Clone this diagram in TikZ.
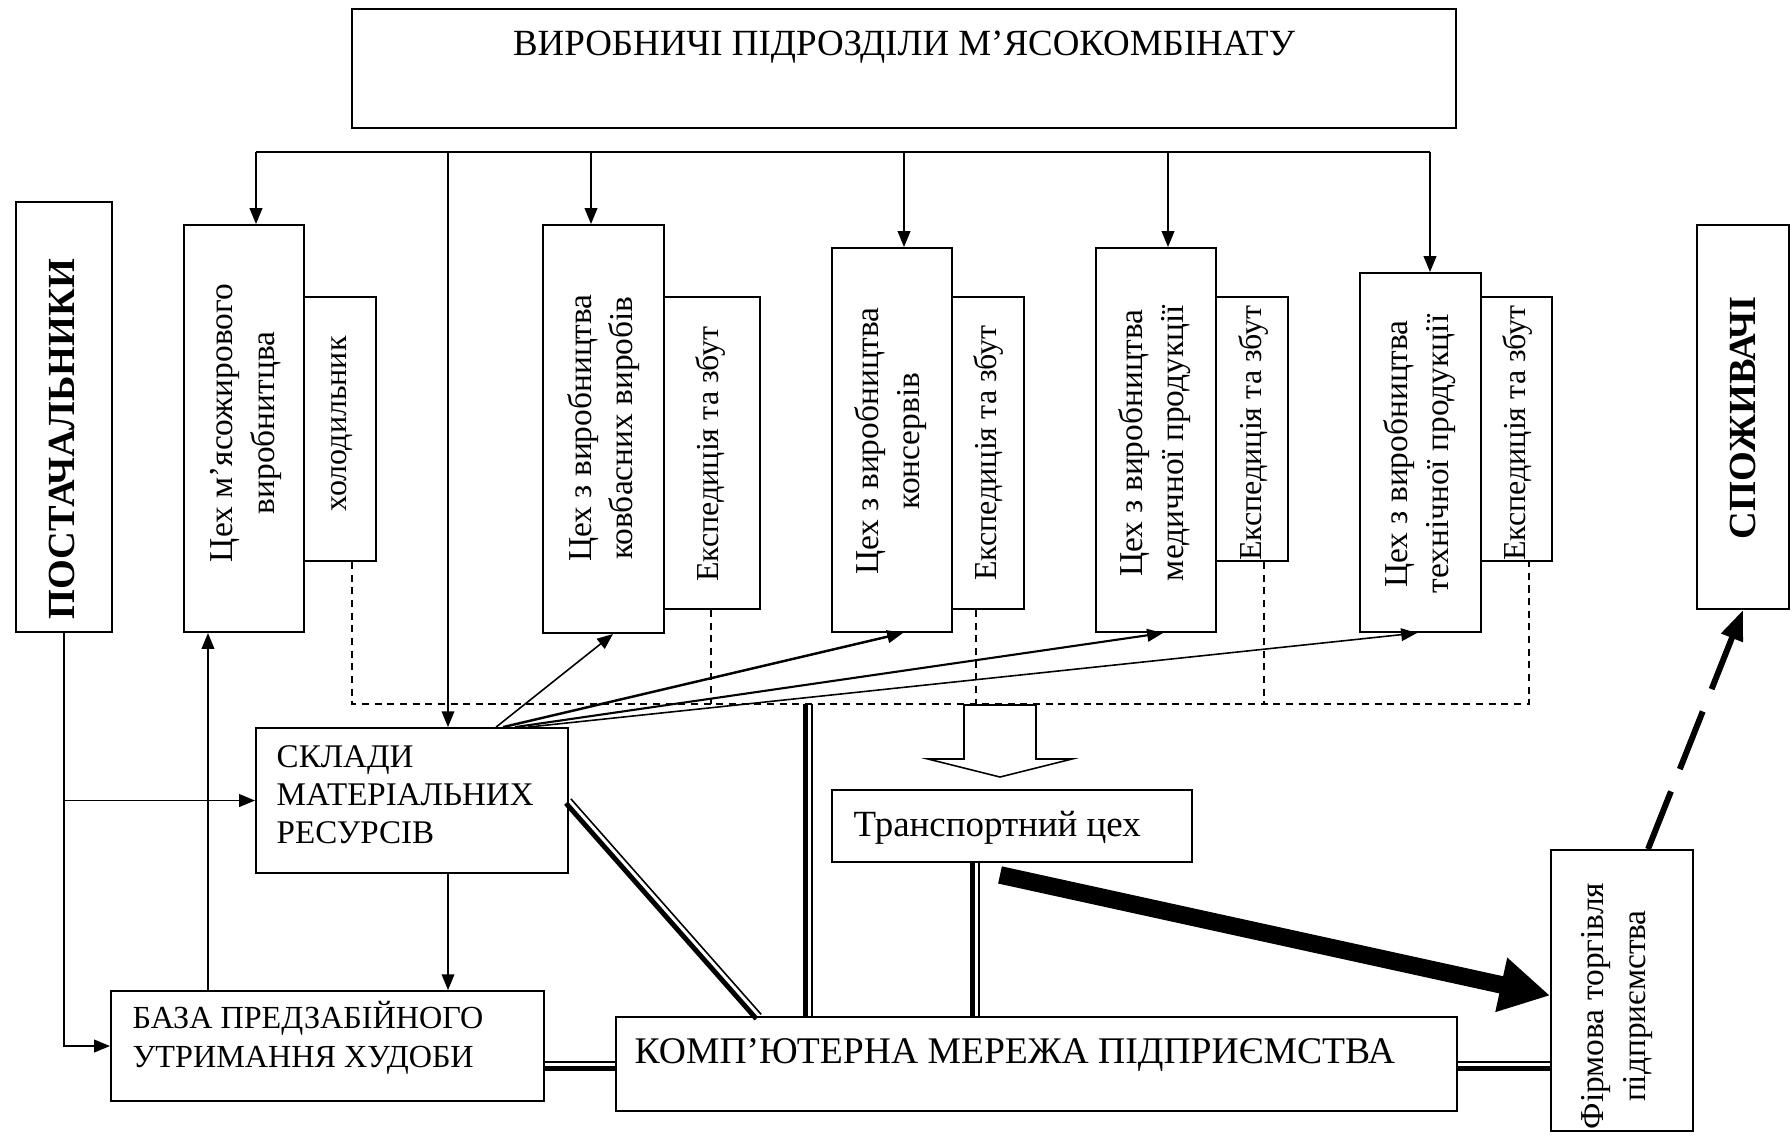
\documentclass[tikz,border=0pt]{standalone}
\usepackage{fontspec}
\setmainfont{Liberation Serif}
\usepackage{tikz}
\usetikzlibrary{arrows.meta}

\begin{document}
\begin{tikzpicture}[x = 0.01cm, y = -0.01cm,
			box/.style = {draw, line width = 0.5pt, fill = white, inner sep = 0pt},
			vtxt/.style = {rotate = 90, align = center, inner sep = 0pt, font = \fontsize{9.5}{11.7}\selectfont},
			etxt/.style = {vtxt, font = \fontsize{9.1}{11}\selectfont},
			vbold/.style = {rotate = 90, inner sep = 0pt, font = \fontsize{10.9}{13}\selectfont\bfseries},
			htxt/.style = {inner sep = 0pt, align = left, font = \fontsize{10.5}{12}\selectfont},
			arr/.style = {line width = 0.45pt, -{Triangle[length = 4.5pt, width = 3.6pt]}},
			dashline/.style = {line width = 0.45pt, dash pattern = on 2pt off 1.6pt},
			thk/.style = {line width = 1.4pt},
			thn/.style = {line width = 0.45pt}]
			\useasboundingbox (0,0) rectangle (1792,1138);
			\node (top) at (904,68.5) [box, minimum width = 11.04cm, minimum height = 1.19cm] {};
			\node (toptxt) at (904,55) [htxt, anchor = base] {ВИРОБНИЧІ ПІДРОЗДІЛИ М’ЯСОКОМБІНАТУ};
			\node (post) at (64,417) [box, minimum width = 0.96cm, minimum height = 4.30cm] {};
			\node (posttxt) at (62,439) [vbold] {ПОСТАЧАЛЬНИКИ};
			\node (cex1) at (244,428.5) [box, minimum width = 1.2cm, minimum height = 4.07cm] {};
			\node (cex1txt) at (246,423) [vtxt] {Цех м’ясожирового\\виробнитцва};
			\node (cold) at (340,429) [box, minimum width = 0.72cm, minimum height = 2.64cm] {};
			\node (coldtxt) at (342,424) [etxt] {холодильник};
			\node (cex2) at (603.5,429) [box, minimum width = 1.21cm, minimum height = 4.08cm] {};
			\node (cex2txt) at (604,428) [vtxt] {Цех з виробництва\\ковбасних виробів};
			\node (exp2) at (712,453) [box, minimum width = 0.96cm, minimum height = 3.12cm] {};
			\node (exp2txt) at (710,454) [etxt] {Експедиція та збут};
			\node (cex3) at (892,440) [box, minimum width = 1.2cm, minimum height = 3.84cm] {};
			\node (cex3txt) at (891,441) [vtxt] {Цех з виробництва\\консервів};
			\node (exp3) at (988,453) [box, minimum width = 0.72cm, minimum height = 3.12cm] {};
			\node (exp3txt) at (988,453) [etxt] {Експедиція та збут};
			\node (cex4) at (1156,440) [box, minimum width = 1.2cm, minimum height = 3.84cm] {};
			\node (cex4txt) at (1155,443) [vtxt] {Цех з виробництва\\медичної продукції};
			\node (exp4) at (1252,429) [box, minimum width = 0.72cm, minimum height = 2.64cm] {};
			\node (exp4txt) at (1253,433) [etxt] {Експедиція та збут};
			\node (cex5) at (1420.5,452.5) [box, minimum width = 1.21cm, minimum height = 3.59cm] {};
			\node (cex5txt) at (1420,454) [vtxt] {Цех з виробництва\\технічної продукції};
			\node (exp5) at (1516.5,429) [box, minimum width = 0.71cm, minimum height = 2.64cm] {};
			\node (exp5txt) at (1517,433) [etxt] {Експедиція та збут};
			\node (spoz) at (1743,417) [box, minimum width = 0.92cm, minimum height = 3.84cm] {};
			\node (spoztxt) at (1743,418) [vbold] {СПОЖИВАЧІ};
			\node (sklad) at (412,800.5) [box, minimum width = 3.12cm, minimum height = 1.45cm] {};
			\node (skladtxt) at (276,843) [htxt, anchor = base west, font = \fontsize{9.4}{10.7}\selectfont] {СКЛАДИ\\МАТЕРІАЛЬНИХ\\РЕСУРСІВ};
			\node (trans) at (1012,826) [box, minimum width = 3.6cm, minimum height = 0.72cm] {};
			\node (transtxt) at (853,836) [htxt, anchor = base west] {Транспортний цех};
			\node (baza) at (327.5,1046) [box, minimum width = 4.33cm, minimum height = 1.10cm] {};
			\node (bazatxt) at (132,1067) [htxt, anchor = base west, font = \fontsize{9.15}{11}\selectfont] {БАЗА ПРЕДЗАБІЙНОГО\\УТРИМАННЯ ХУДОБИ};
			\node (mer) at (1036.5,1064) [box, minimum width = 8.41cm, minimum height = 0.94cm] {};
			\node (mertxt) at (634,1063) [htxt, anchor = base west, font = \fontsize{10.7}{12}\selectfont] {КОМП’ЮТЕРНА МЕРЕЖА ПІДПРИЄМСТВА};
			\node (firm) at (1622,990.5) [box, minimum width = 1.42cm, minimum height = 2.81cm] {};
			\node (firmtxt) at (1617,1006) [vtxt] {Фірмова торгівля\\підприємства};
			\foreach \n/\x in {cex1/256, sklad/448, cex2/591, cex3/904, cex4/1168, cex5/1430} {
				\coordinate (tap\n) at (\x,152);
				\draw[arr] (tap\n) -- (tap\n |- \n.north);
			}
			\draw[thn] (tapcex1) -- (tapcex5);
			\coordinate (dashy) at (0,704);
			\draw[dashline] ([xshift = 1.2mm]cold.south) |- ([xshift = 1.25mm]exp5.south |- dashy) -- ([xshift = 1.25mm]exp5.south);
			\foreach \n/\s in {exp2/-0.1mm, exp3/-1.2mm, exp4/1.2mm}
				\draw[dashline] ([xshift = \s]\n.south) -- ([xshift = \s]\n.south |- dashy);
			\draw[thn, fill = white] (964,705) -- (964,759) -- (928,759) -- (1000,777) -- (1072,759) -- (1036,759) -- (1036,705) -- cycle;
			\draw[arr] ([xshift = 8.4mm]sklad.north) -- ([xshift = 0.95mm]cex2.south);
			\draw[arr, line width = 0.7pt] ([xshift = 9.1mm]sklad.north) -- ([xshift = 1.1mm]cex3.south);
			\draw[arr, line width = 0.6pt] ([xshift = 10.3mm]sklad.north) -- ([xshift = 0.7mm]cex4.south);
			\draw[arr] ([xshift = 11.6mm]sklad.north) -- ([xshift = -0.35mm]cex5.south);
			\draw[arr] ([xshift = 3.6mm]sklad.south) -- ([xshift = 3.6mm]sklad.south |- baza.north);
			\draw[arr] ([xshift = -3.6mm]cex1.south |- baza.north) -- ([xshift = -3.6mm]cex1.south);
			\draw[arr] (post.south) |- (baza.west);
			\draw[arr] (post.south |- sklad.west) -- (sklad.west);
			\draw[thk] ([yshift = -0.045cm]baza.east |- mer.west) -- ([yshift = -0.045cm]mer.west);
			\draw[thn] ([yshift = 0.02cm]baza.east |- mer.west) -- ([yshift = 0.02cm]mer.west);
			\draw[thk] ([yshift = -0.045cm]mer.east) -- ([yshift = -0.045cm]mer.east -| firm.west);
			\draw[thn] ([yshift = 0.02cm]mer.east) -- ([yshift = 0.02cm]mer.east -| firm.west);
			\draw[thk] ([shift = {(-0.03cm,-0.027cm)}]sklad.east) -- ([shift = {(-0.03cm,-0.027cm)}, xshift = -2.77cm]mer.north);
			\draw[thn] ([shift = {(0.019cm,0.017cm)}]sklad.east) -- ([shift = {(0.019cm,0.017cm)}, xshift = -2.77cm]mer.north);
			\coordinate (netup) at (808,704);
			\draw[thk] ([xshift = -0.025cm]netup) -- ([xshift = -0.025cm]netup |- mer.north);
			\draw[thn] ([xshift = 0.04cm]netup) -- ([xshift = 0.04cm]netup |- mer.north);
			\draw[thk] ([xshift = -0.395cm]trans.south) -- ([xshift = -0.395cm]trans.south |- mer.north);
			\draw[thn] ([xshift = -0.33cm]trans.south) -- ([xshift = -0.33cm]trans.south |- mer.north);
			\draw[line width = 5pt, -{Triangle[length = 0.5cm, width = 0.52cm]}] ([xshift = -0.12cm, yshift = -0.12cm]trans.south) -- ([yshift = -0.05cm]firm.west);
			\draw[line width = 1.7pt, dash pattern = on 0.62cm off 0.24cm, -{Triangle[length = 0.3cm, width = 0.22cm]}] ([xshift = 0.26cm]firm.north) -- (spoz.south);
\end{tikzpicture}
\end{document}
